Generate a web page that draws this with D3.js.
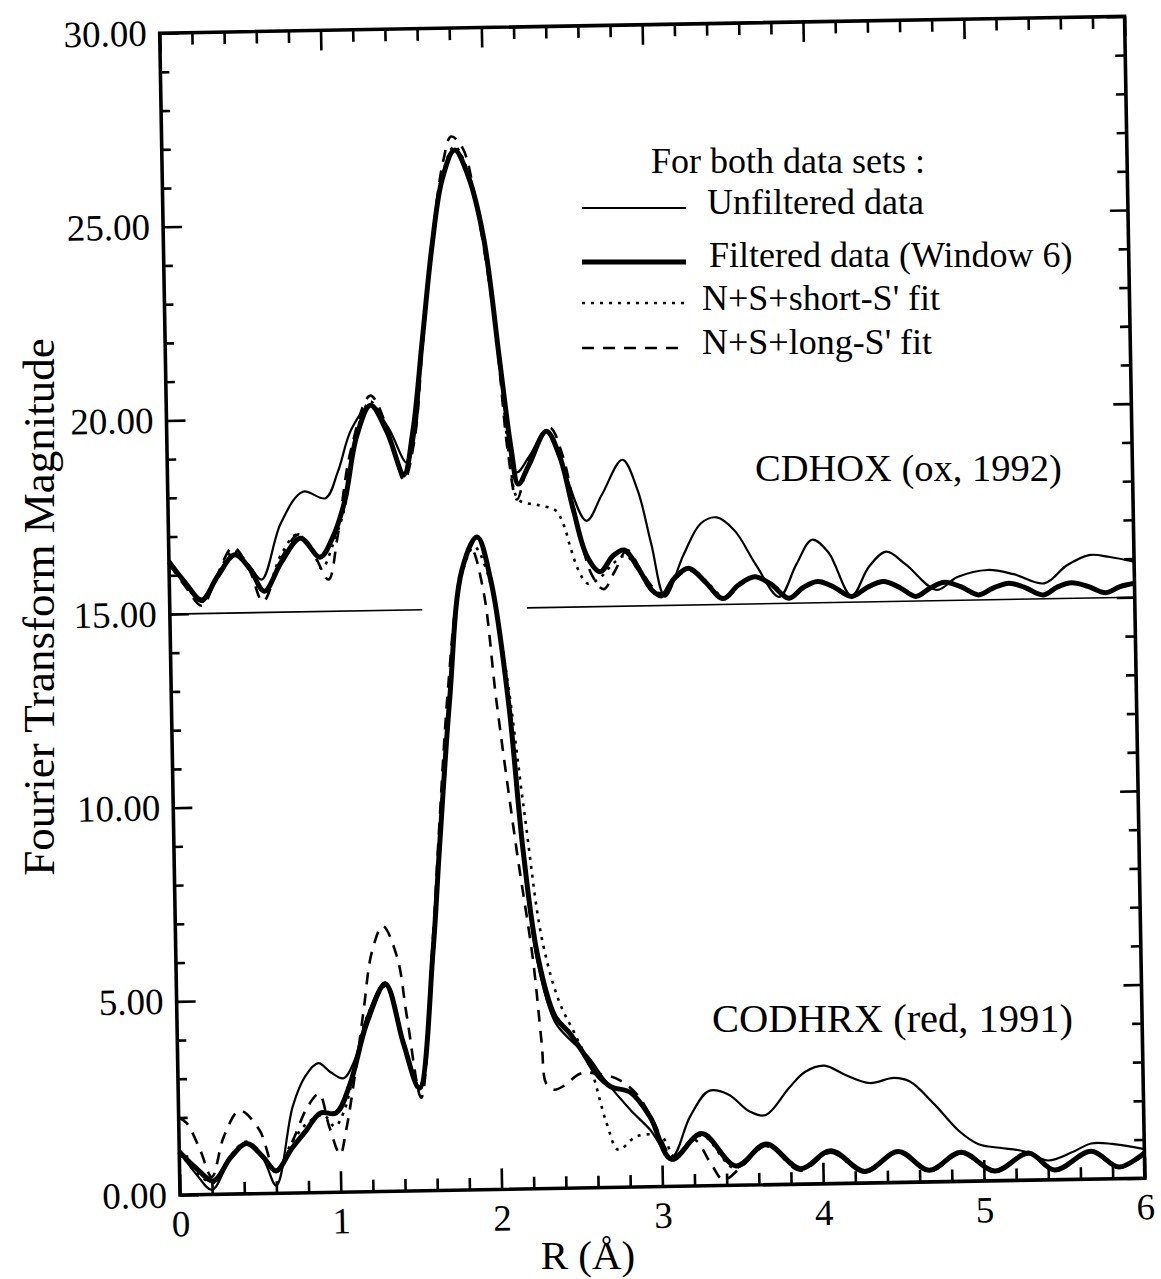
<!DOCTYPE html>
<html><head><meta charset="utf-8">
<script src="https://cdn.jsdelivr.net/npm/d3@7"></script>
<style>
html,body{margin:0;padding:0;background:#fff;}
svg{display:block;}
text{font-family:"Liberation Serif","Times New Roman",serif;fill:#000;}
</style></head>
<body>
<svg id="chart" width="1161" height="1279"></svg>
<script>
// ---------- data ----------
const xTickLabels = ["0","1","2","3","4","5","6"];
const yTickLabels = ["0.00","5.00","10.00","15.00","20.00","25.00","30.00"];
const xMajor = [0,1,2,3,4,5,6];
const yMajor = [0,5,10,15,20,25,30];
const legendLabels = ["Unfiltered data","Filtered data (Window 6)","N+S+short-S' fit","N+S+long-S' fit"];
const sampleLabels = ["CDHOX (ox, 1992)","CODHRX (red, 1991)"];
const offsetBaseline = [[0,15],[1.57,15],[2.22,15],[6,15]];

// CDHOX (offset by 15)
const cdhoxUnfiltered = [[0,16.35],[0.1,15.75],[0.2,15.3],[0.3,15.95],[0.41,16.5],[0.5,16.2],[0.575,15.85],[0.7,17.3],[0.84,18.1],[0.98,17.92],[1.06,18.6],[1.15,19.7],[1.27,20.3],[1.38,19.7],[1.49,18.8],[1.55,19.7],[1.6,22.0],[1.67,24.4],[1.74,26.1],[1.82,26.85],[1.9,26.2],[1.99,24.6],[2.08,21.5],[2.17,18.5],[2.25,18.9],[2.36,19.55],[2.46,18.6],[2.6,17.22],[2.7,17.9],[2.83,18.78],[2.92,18.0],[3.0,16.6],[3.08,15.23],[3.2,16.3],[3.31,17.1],[3.41,17.25],[3.52,16.9],[3.65,16.0],[3.79,15.17],[3.9,16.0],[4.0,16.63],[4.1,16.3],[4.24,15.16],[4.35,15.9],[4.46,16.29],[4.58,15.95],[4.77,15.28],[4.9,15.6],[5.09,15.77],[5.25,15.65],[5.44,15.4],[5.58,15.85],[5.72,16.11],[5.85,16.05],[6.0,15.92]];
const cdhoxFiltered = [[0,16.35],[0.1,15.8],[0.2,15.35],[0.3,15.95],[0.41,16.5],[0.5,16.15],[0.59,15.55],[0.7,16.3],[0.82,16.9],[0.94,16.4],[1.02,16.9],[1.1,17.85],[1.18,19.5],[1.27,20.3],[1.37,19.6],[1.47,18.5],[1.53,19.6],[1.6,22.0],[1.67,24.4],[1.74,26.1],[1.82,26.85],[1.9,26.2],[1.99,24.6],[2.08,21.3],[2.14,19.1],[2.18,18.2],[2.25,18.7],[2.36,19.55],[2.44,18.9],[2.52,17.5],[2.6,16.3],[2.68,15.9],[2.76,16.3],[2.83,16.45],[2.92,15.95],[3.0,15.4],[3.06,15.25],[3.14,15.7],[3.23,15.95],[3.33,15.6],[3.44,15.15],[3.54,15.5],[3.64,15.7],[3.74,15.5],[3.85,15.13],[3.94,15.4],[4.03,15.55],[4.13,15.4],[4.24,15.15],[4.34,15.38],[4.44,15.52],[4.54,15.36],[4.64,15.12],[4.73,15.33],[4.82,15.47],[4.92,15.35],[5.03,15.13],[5.12,15.3],[5.22,15.42],[5.32,15.3],[5.43,15.1],[5.52,15.3],[5.61,15.4],[5.71,15.3],[5.82,15.13],[5.91,15.28],[6.0,15.36]];
const cdhoxShortFit = [[0,16.4],[0.1,15.8],[0.2,15.3],[0.3,16.0],[0.4,16.6],[0.5,16.2],[0.59,15.5],[0.7,16.5],[0.8,17.0],[0.9,16.5],[0.95,16.1],[1.02,16.7],[1.1,17.7],[1.18,19.6],[1.27,20.4],[1.37,19.6],[1.47,18.45],[1.53,19.5],[1.6,22.0],[1.67,24.5],[1.74,26.2],[1.82,26.95],[1.9,26.3],[1.99,24.6],[2.08,21.2],[2.13,18.8],[2.18,17.8],[2.3,17.65],[2.41,17.5],[2.46,17.1],[2.5,16.5],[2.55,15.9],[2.6,15.6],[2.68,15.75],[2.76,16.1],[2.84,16.3],[2.92,15.9],[3.0,15.45],[3.07,15.3],[3.15,15.75],[3.24,15.95],[3.34,15.6],[3.45,15.18],[3.55,15.5],[3.65,15.72],[3.75,15.5],[3.86,15.15],[3.95,15.4],[4.04,15.57],[4.14,15.4],[4.25,15.15],[4.35,15.38],[4.45,15.5],[4.55,15.35],[4.65,15.12],[4.74,15.33],[4.83,15.47],[4.93,15.35],[5.04,15.13],[5.13,15.3],[5.23,15.42],[5.33,15.3],[5.44,15.1],[5.53,15.3],[5.62,15.4],[5.72,15.3],[5.83,15.13],[5.92,15.28],[6.0,15.36]];
const cdhoxLongFit = [[0,16.3],[0.1,15.7],[0.2,15.2],[0.3,16.0],[0.4,16.7],[0.5,16.1],[0.58,15.28],[0.7,16.4],[0.81,17.0],[0.9,16.5],[0.99,15.82],[1.05,16.9],[1.14,19.1],[1.27,20.55],[1.38,19.6],[1.47,18.35],[1.54,19.4],[1.6,21.8],[1.68,24.8],[1.75,26.6],[1.8,27.2],[1.87,26.9],[1.95,25.4],[2.05,22.4],[2.12,19.0],[2.17,17.8],[2.25,18.8],[2.38,19.65],[2.46,18.9],[2.55,17.0],[2.63,15.8],[2.7,15.45],[2.77,15.9],[2.85,16.45],[2.93,15.95],[3.0,15.5],[3.07,15.3],[3.15,15.7],[3.23,15.9],[3.33,15.6],[3.44,15.15],[3.54,15.5],[3.64,15.72],[3.74,15.5],[3.85,15.13],[3.94,15.4],[4.03,15.55],[4.13,15.4],[4.24,15.15],[4.34,15.38],[4.44,15.52],[4.54,15.36],[4.64,15.12],[4.73,15.33],[4.82,15.47],[4.92,15.35],[5.03,15.13],[5.12,15.3],[5.22,15.42],[5.32,15.3],[5.43,15.1],[5.52,15.3],[5.61,15.4],[5.71,15.3],[5.82,15.13],[5.91,15.28],[6.0,15.36]];

// CODHRX
const codhrxUnfiltered = [[0,1.12],[0.1,0.55],[0.2,0.12],[0.32,0.95],[0.42,1.3],[0.52,0.9],[0.6,0.2],[0.71,2.23],[0.79,3.0],[0.874,3.34],[0.95,3.1],[1.03,2.94],[1.1,3.4],[1.18,4.5],[1.3,5.4],[1.405,3.9],[1.5,2.7],[1.6,6.3],[1.65,8.9],[1.73,12.7],[1.82,16.0],[1.918,16.85],[2.0,15.7],[2.095,12.5],[2.17,8.6],[2.25,5.8],[2.35,4.3],[2.45,3.8],[2.55,3.4],[2.65,2.8],[2.81,1.99],[2.93,1.47],[3.06,0.75],[3.18,1.8],[3.3,2.45],[3.42,2.35],[3.55,1.9],[3.65,1.8],[3.8,2.5],[3.9,2.9],[4.02,3.05],[4.15,2.8],[4.3,2.58],[4.45,2.7],[4.55,2.6],[4.7,2.0],[4.85,1.3],[4.97,0.95],[5.1,0.85],[5.25,0.75],[5.4,0.5],[5.55,0.7],[5.67,0.92],[5.8,0.9],[6.0,0.75]];
const codhrxFiltered = [[0,1.12],[0.1,0.7],[0.21,0.35],[0.32,0.95],[0.42,1.3],[0.52,0.95],[0.6,0.58],[0.7,1.15],[0.79,1.6],[0.88,2.05],[0.98,2.05],[1.07,2.8],[1.18,4.35],[1.3,5.35],[1.405,3.82],[1.5,2.65],[1.6,6.2],[1.65,8.8],[1.73,12.66],[1.82,16.0],[1.918,16.85],[2.0,15.7],[2.095,12.6],[2.17,8.75],[2.25,6.0],[2.35,4.45],[2.44,4.0],[2.52,3.5],[2.6,2.95],[2.69,2.6],[2.81,2.45],[2.93,1.81],[3.06,0.7],[3.25,1.35],[3.46,0.5],[3.65,1.05],[3.86,0.4],[4.05,0.85],[4.26,0.3],[4.47,0.8],[4.66,0.3],[4.86,0.75],[5.07,0.25],[5.28,0.7],[5.44,0.25],[5.67,0.72],[5.84,0.3],[6.0,0.65]];
const codhrxShortFit = [[0,1.1],[0.1,0.6],[0.21,0.3],[0.32,1.0],[0.42,1.35],[0.52,0.95],[0.6,0.55],[0.7,1.3],[0.8,1.8],[0.9,2.0],[0.97,1.7],[1.03,2.1],[1.1,3.2],[1.18,4.5],[1.3,5.3],[1.405,3.8],[1.5,2.6],[1.6,6.3],[1.65,9.0],[1.73,12.8],[1.82,15.9],[1.9,16.6],[1.98,15.9],[2.08,13.5],[2.18,9.8],[2.28,6.4],[2.38,4.8],[2.47,4.0],[2.57,3.04],[2.66,1.66],[2.73,0.97],[2.84,1.3],[2.96,1.34],[3.02,1.2],[3.08,0.75],[3.25,1.3],[3.45,0.45],[3.65,1.0],[3.86,0.38],[4.05,0.8],[4.26,0.28],[4.47,0.78],[4.66,0.28],[4.86,0.72],[5.07,0.25],[5.28,0.68],[5.44,0.25],[5.67,0.7],[5.84,0.28],[6.0,0.62]];
const codhrxLongFit = [[0,2.0],[0.05,1.85],[0.13,1.16],[0.2,0.45],[0.28,1.5],[0.38,2.15],[0.5,1.65],[0.6,0.55],[0.71,1.38],[0.8,2.2],[0.875,2.55],[0.935,1.7],[1.0,0.98],[1.04,1.6],[1.1,3.0],[1.16,4.64],[1.22,6.2],[1.29,6.85],[1.375,6.05],[1.43,4.5],[1.51,2.4],[1.6,6.5],[1.65,9.3],[1.72,12.9],[1.8,15.6],[1.88,16.55],[1.95,15.5],[2.02,12.64],[2.13,8.76],[2.22,5.91],[2.265,3.76],[2.29,2.7],[2.34,2.55],[2.4,2.65],[2.5,2.95],[2.6,2.95],[2.73,2.8],[2.85,2.4],[2.95,1.7],[3.07,0.75],[3.2,1.2],[3.3,0.6],[3.38,0.15],[3.5,0.5],[3.65,1.0],[3.86,0.35],[4.05,0.8],[4.26,0.28],[4.47,0.78],[4.66,0.28],[4.86,0.72],[5.07,0.25],[5.28,0.68],[5.44,0.25],[5.67,0.7],[5.84,0.28],[6.0,0.62]];

// ---------- layout ----------
const W = 965, H = 1162;
const svg = d3.select("#chart");
svg.append("rect").attr("width",1161).attr("height",1279).attr("fill","#fff");

const g = svg.append("g").attr("transform","translate(180,1195) rotate(-1)");
const x = d3.scaleLinear().domain([0,6]).range([0,W]);
const y = d3.scaleLinear().domain([0,30]).range([0,-H]);

const xMinor = d3.range(0,6.0001,0.2).filter(v=>Math.abs(v-Math.round(v))>1e-6);
const yMinor = d3.range(0,30.0001,1).filter(v=>v%5!==0);

function styleAxis(sel){
  sel.select(".domain").remove();
  sel.selectAll("line").attr("stroke","#000").attr("stroke-width",2.6);
  sel.selectAll("text").attr("font-family","Liberation Serif").attr("font-size",37).attr("fill","#000");
}
// bottom
g.append("g").call(d3.axisBottom(x).tickValues(xMinor).tickSize(-12).tickFormat("")).call(styleAxis);
g.append("g").call(d3.axisBottom(x).tickValues(xMajor).tickSize(-21).tickPadding(15).tickFormat((d,i)=>xTickLabels[i])).call(styleAxis);
// top
g.append("g").attr("transform",`translate(0,${-H})`).call(d3.axisTop(x).tickValues(xMinor).tickSize(-12).tickFormat("")).call(styleAxis);
g.append("g").attr("transform",`translate(0,${-H})`).call(d3.axisTop(x).tickValues(xMajor).tickSize(-20).tickFormat("")).call(styleAxis);
// left
g.append("g").call(d3.axisLeft(y).tickValues(yMinor).tickSize(-9).tickFormat("")).call(styleAxis);
g.append("g").call(d3.axisLeft(y).tickValues(yMajor).tickSize(-19).tickPadding(13).tickFormat((d,i)=>yTickLabels[i])).call(styleAxis);
// right
g.append("g").attr("transform",`translate(${W},0)`).call(d3.axisRight(y).tickValues(yMinor).tickSize(-10).tickFormat("")).call(styleAxis);
g.append("g").attr("transform",`translate(${W},0)`).call(d3.axisRight(y).tickValues(yMajor).tickSize(-18).tickFormat("")).call(styleAxis);

// frame
g.append("rect").attr("x",0).attr("y",-H).attr("width",W).attr("height",H)
  .attr("fill","none").attr("stroke","#000").attr("stroke-width",3.6);

// baseline at 15
const seg = d3.line().x(d=>x(d[0])).y(d=>y(d[1]));
g.append("path").attr("d",seg(offsetBaseline.slice(0,2))).attr("stroke","#000").attr("stroke-width",1.6).attr("fill","none");
g.append("path").attr("d",seg(offsetBaseline.slice(2,4))).attr("stroke","#000").attr("stroke-width",1.6).attr("fill","none");

const line = d3.line().x(d=>x(d[0])).y(d=>y(d[1])).curve(d3.curveCatmullRom.alpha(0.5));
const styles = {
  unf:{w:2.2,dash:null},
  fil:{w:5,dash:null},
  sh:{w:2.6,dash:"3,6"},
  lo:{w:2.6,dash:"12,9"}
};
function draw(data,st){
  const p = g.append("path").attr("d",line(data)).attr("fill","none").attr("stroke","#000")
    .attr("stroke-width",st.w).attr("stroke-linejoin","round");
  if(st.dash) p.attr("stroke-dasharray",st.dash);
}
draw(cdhoxUnfiltered,styles.unf);
draw(cdhoxShortFit,styles.sh);
draw(cdhoxLongFit,styles.lo);
draw(cdhoxFiltered,styles.fil);
draw(codhrxUnfiltered,styles.unf);
draw(codhrxShortFit,styles.sh);
draw(codhrxLongFit,styles.lo);
draw(codhrxFiltered,styles.fil);

// axis titles
svg.append("text").attr("transform","translate(54,607) rotate(-90)").attr("text-anchor","middle")
  .attr("font-size",45).text("Fourier Transform Magnitude");
svg.append("text").attr("x",588).attr("y",1269).attr("text-anchor","middle").attr("font-size",41).text("R (Å)");

// legend
svg.append("text").attr("x",651).attr("y",173).attr("font-size",36).text("For both data sets :");
const legY = [208,262,303,348];
const legTextY = [214,267,310,354];
const legTextX = [707,709,702,702];
const legSt = [styles.unf,styles.fil,styles.sh,styles.lo];
legendLabels.forEach((lab,i)=>{
  const l = svg.append("line").attr("x1",582).attr("x2",686).attr("y1",legY[i]).attr("y2",legY[i])
    .attr("stroke","#000").attr("stroke-width",legSt[i].w);
  if(legSt[i].dash) l.attr("stroke-dasharray",legSt[i].dash);
  svg.append("text").attr("x",legTextX[i]).attr("y",legTextY[i]).attr("font-size",36).text(lab);
});

// sample labels
svg.append("text").attr("x",755).attr("y",481).attr("font-size",38.5).text(sampleLabels[0]);
svg.append("text").attr("x",712).attr("y",1032).attr("font-size",40.5).text(sampleLabels[1]);
</script>
</body></html>
